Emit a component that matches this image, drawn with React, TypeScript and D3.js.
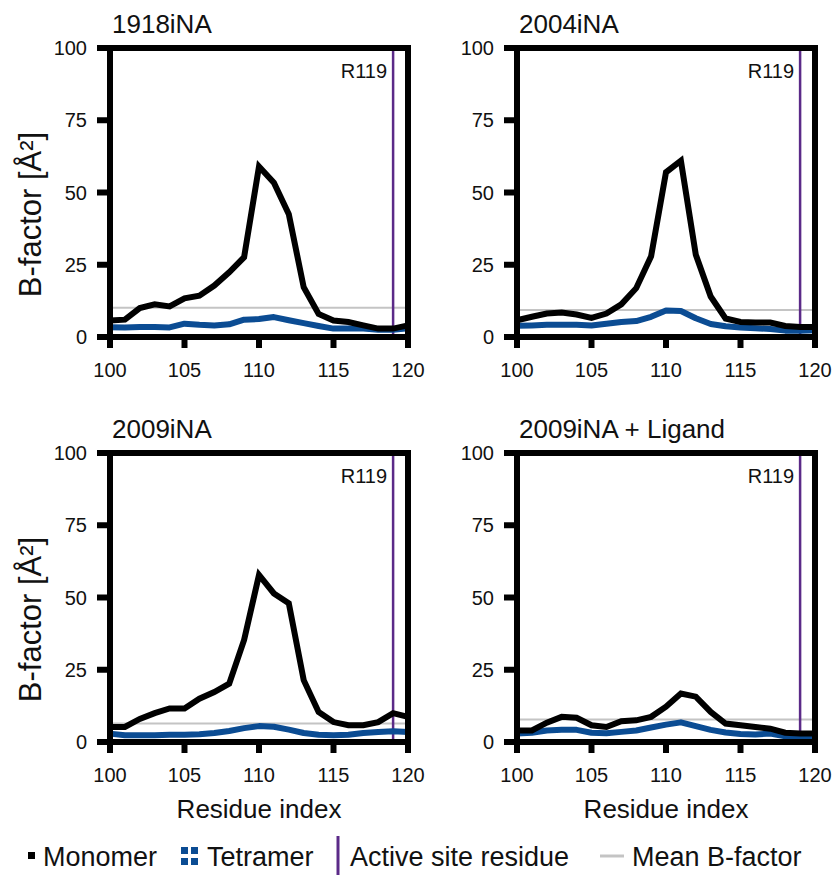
import React from 'react';
import * as d3 from 'd3';

const residues = [100, 101, 102, 103, 104, 105, 106, 107, 108, 109, 110, 111, 112, 113, 114, 115, 116, 117, 118, 119, 120];
const titles = ['1918iNA', '2004iNA', '2009iNA', '2009iNA + Ligand'];

const monomer1918 = [5.7, 6, 10, 11.3, 10.6, 13.4, 14.3, 17.8, 22.4, 27.6, 59, 53.4, 42.5, 17.2, 8, 5.7, 5.2, 4, 2.9, 2.9, 4];
const tetramer1918 = [3.4, 3.3, 3.5, 3.5, 3.3, 4.6, 4.2, 4, 4.4, 6, 6.2, 6.9, 5.8, 4.8, 3.8, 2.9, 2.9, 2.9, 2.5, 2.5, 3];
const monomer2004 = [5.8, 7, 8.1, 8.5, 7.8, 6.6, 8.1, 11.3, 16.9, 27.9, 57, 61, 28.5, 14, 6.4, 5.2, 5, 5, 3.8, 3.5, 3.5];
const tetramer2004 = [3.9, 4, 4.2, 4.2, 4.2, 4, 4.6, 5.2, 5.5, 7, 9.2, 9, 6.5, 4.5, 3.7, 3.3, 3, 2.8, 2.2, 2.2, 2.3];
const monomer2009 = [5.2, 5.2, 8, 10, 11.6, 11.6, 15, 17.3, 20.2, 35.3, 57.8, 51.4, 48, 21.4, 10.4, 6.9, 5.8, 5.8, 6.9, 10, 8.7];
const tetramer2009 = [2.9, 2.3, 2.3, 2.3, 2.5, 2.5, 2.7, 3.1, 3.8, 4.8, 5.5, 5.3, 4.3, 3.1, 2.5, 2.3, 2.5, 3.1, 3.5, 3.7, 3.5];
const monomer2009L = [4, 4, 6.7, 8.7, 8.4, 5.8, 5.2, 7.2, 7.5, 8.7, 12.2, 16.8, 15.7, 10.4, 6.4, 5.8, 5.2, 4.6, 3.2, 2.9, 2.9];
const tetramer2009L = [2.9, 3.2, 4, 4.2, 4.2, 3.2, 3, 3.5, 4, 5, 6, 6.8, 5.5, 4.2, 3.3, 2.8, 2.6, 2.9, 2, 1.5, 1.5];
const meanBfactor = [10.1, 9.3, 6.4, 7.8];

const monomerSeries = [monomer1918, monomer2004, monomer2009, monomer2009L];
const tetramerSeries = [tetramer1918, tetramer2004, tetramer2009, tetramer2009L];

const activeSite = 119;
const activeLabel = 'R119';
const yTicks = [0, 25, 50, 75, 100];
const xTicks = [100, 105, 110, 115, 120];
const xLabel = 'Residue index';
const yLabel = 'B-factor [Å²]';
const legendLabels = ['Monomer', 'Tetramer', 'Active site residue', 'Mean B-factor'];

const FONT = '"Liberation Sans", Arial, Helvetica, sans-serif';
const BLACK = '#000000';
const BLUE = '#0b4c93';
const PURPLE = '#5b2a88';
const GRAY = '#c4c4c4';

const colX = [110, 517];
const rowY = [48, 453];
const PW = 298;
const PH = 289;

function Panel({ idx }: { idx: number }) {
  const col = idx % 2;
  const row = Math.floor(idx / 2);
  const left = colX[col];
  const top = rowY[row];
  const x = d3.scaleLinear().domain([100, 120]).range([left, left + PW]);
  const y = d3.scaleLinear().domain([0, 100]).range([top + PH, top]);
  const line = d3
    .line<number>()
    .x((_, i) => x(residues[i]))
    .y((d) => y(d))
    .curve(d3.curveLinear);
  const bottom = y(0);
  return (
    <g>
      <text x={left + 2} y={top - 15} fontSize={26} fontFamily={FONT} fill="#111">
        {titles[idx]}
      </text>
      <line x1={left} x2={left + PW} y1={y(meanBfactor[idx])} y2={y(meanBfactor[idx])} stroke={GRAY} strokeWidth={2} />
      <line x1={x(activeSite)} x2={x(activeSite)} y1={top} y2={bottom} stroke={PURPLE} strokeWidth={2.5} />
      <text x={x(activeSite) - 6} y={top + 30} fontSize={20} fontFamily={FONT} textAnchor="end" fill="#111">
        {activeLabel}
      </text>
      <path d={line(tetramerSeries[idx]) || ''} fill="none" stroke={BLUE} strokeWidth={6} strokeLinejoin="round" />
      <path d={line(monomerSeries[idx]) || ''} fill="none" stroke={BLACK} strokeWidth={6} strokeLinejoin="miter" />
      <rect x={left} y={top} width={PW} height={PH} fill="none" stroke={BLACK} strokeWidth={6} />
      {yTicks.map((t) => (
        <g key={'y' + t}>
          <line x1={left - 13} x2={left} y1={y(t)} y2={y(t)} stroke={BLACK} strokeWidth={6} />
          <text x={left - 23} y={y(t)} dy="0.36em" fontSize={20} fontFamily={FONT} textAnchor="end" fill="#111">
            {t}
          </text>
        </g>
      ))}
      {xTicks.map((t) => (
        <g key={'x' + t}>
          <line x1={x(t)} x2={x(t)} y1={bottom} y2={bottom + 11} stroke={BLACK} strokeWidth={6} />
          <text x={x(t)} y={bottom + 40} fontSize={20} fontFamily={FONT} textAnchor="middle" fill="#111">
            {t}
          </text>
        </g>
      ))}
      {row === 1 && (
        <text x={left + PW / 2} y={bottom + 76} fontSize={26} fontFamily={FONT} textAnchor="middle" fill="#111">
          {xLabel}
        </text>
      )}
      {col === 0 && (
        <text
          transform={`translate(41, ${top + PH / 2 + 22}) rotate(-90)`}
          fontSize={31}
          fontFamily={FONT}
          textAnchor="middle"
          fill="#111"
        >
          {yLabel}
        </text>
      )}
    </g>
  );
}

export default function App() {
  const ly = 856;
  return (
    <svg
      width={839}
      height={875}
      style={{ position: 'absolute', left: 0, top: 0, background: '#fff' }}
    >
      <rect width={839} height={875} fill="#fff" />
      {[0, 1, 2, 3].map((i) => (
        <Panel key={i} idx={i} />
      ))}
      <g fontFamily={FONT} fontSize={27} fill="#111">
        <rect x={28} y={ly - 4} width={7} height={7} fill={BLACK} />
        <text x={43} y={ly} dy="0.36em">{legendLabels[0]}</text>
        <rect x={181} y={ly - 9} width={7} height={7} fill={BLUE} />
        <rect x={191} y={ly - 9} width={7} height={7} fill={BLUE} />
        <rect x={181} y={ly + 2} width={7} height={7} fill={BLUE} />
        <rect x={191} y={ly + 2} width={7} height={7} fill={BLUE} />
        <text x={207} y={ly} dy="0.36em">{legendLabels[1]}</text>
        <line x1={338} x2={338} y1={836} y2={875} stroke={PURPLE} strokeWidth={3} />
        <text x={350} y={ly} dy="0.36em">{legendLabels[2]}</text>
        <line x1={600} x2={624} y1={ly} y2={ly} stroke={GRAY} strokeWidth={3} />
        <text x={632} y={ly} dy="0.36em">{legendLabels[3]}</text>
      </g>
    </svg>
  );
}
